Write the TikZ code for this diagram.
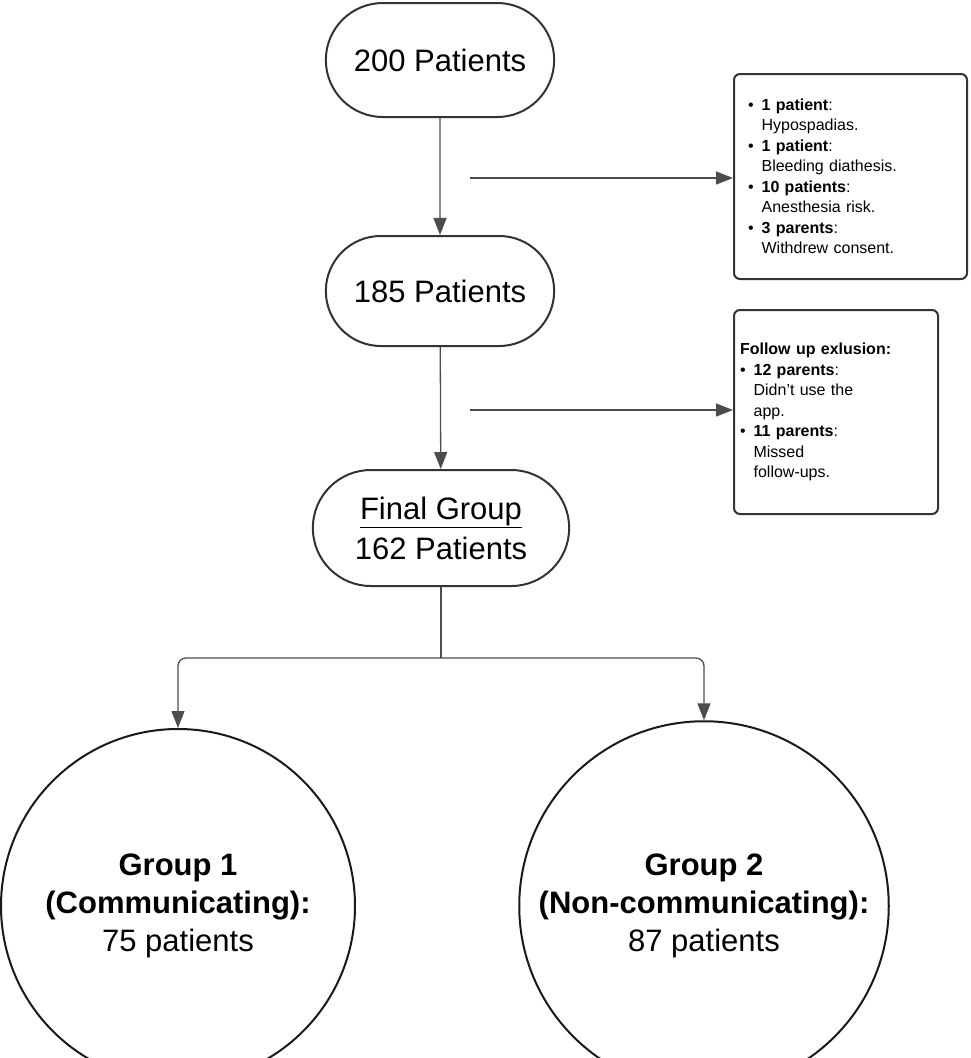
\documentclass[tikz,border=0pt]{standalone}
\usepackage{fontspec}
\setmainfont{Liberation Sans}
\usetikzlibrary{shapes.geometric, shapes.misc, arrows.meta, positioning, calc}

\begin{document}
\begin{tikzpicture}[
    x=1pt, y=-1pt,
    line width=1.2pt,
    stage/.style={draw=black!80, line width=2pt, rounded rectangle, minimum width=235pt, minimum height=114pt, align=center, font=\fontsize{31}{40}\selectfont},
    note/.style={draw=black!80, line width=2pt, rounded corners=6pt, align=left, anchor=north west, inner xsep=14pt, inner ysep=6pt, font=\fontsize{16}{20.5}\selectfont},
    group/.style={draw=black!90, line width=2pt, circle, minimum size=354pt, align=center, font=\fontsize{31}{38}\selectfont},
    forward/.style={-{Triangle[length=17pt, width=13pt]}, draw=black!70, line width=1.3pt}
]
    \useasboundingbox (0,0) rectangle (970,1058);

    % Main stages
    \node (start) [stage] at (440,60) {200 Patients};
    \node (mid) [stage, minimum height=110pt] at (440,291) {185 Patients};
    \node (final) [stage, minimum width=263pt, minimum height=116pt] at (441,528) {\underline{Final Group}\\162 Patients};

    % Exclusion notes
    \node (excl) [note, text width=205pt, minimum height=205pt] at (733,73) {%
        \textbullet\enspace\textbf{1 patient}:\\\phantom{\textbullet\enspace}Hypospadias.\\
        \textbullet\enspace\textbf{1 patient}:\\\phantom{\textbullet\enspace}Bleeding diathesis.\\
        \textbullet\enspace\textbf{10 patients}:\\\phantom{\textbullet\enspace}Anesthesia risk.\\
        \textbullet\enspace\textbf{3 parents}:\\\phantom{\textbullet\enspace}Withdrew consent.};
    \node (follow) [note, inner xsep=6pt, text width=192pt, minimum height=204pt] at (733,309) {%
        \textbf{Follow up exlusion:}\\
        \textbullet\enspace\textbf{12 parents}:\\\phantom{\textbullet\enspace}Didn't use the\\\phantom{\textbullet\enspace}app.\\
        \textbullet\enspace\textbf{11 parents}:\\\phantom{\textbullet\enspace}Missed\\\phantom{\textbullet\enspace}follow-ups.};

    % Groups
    \node (g1) [group] at (178,906) {\raisebox{40pt}{\begin{tabular}{c}\textbf{Group 1}\\\textbf{(Communicating):}\\75 patients\end{tabular}}};
    \node (g2) [group] at (704,906) {\raisebox{40pt}{\begin{tabular}{c}\textbf{Group 2}\\\textbf{(Non-communicating):}\\87 patients\end{tabular}}};

    % Flow
    \draw [forward] (start) -- (mid);
    \draw [forward] (mid) -- (final);
    \coordinate (side1) at (470,178);
    \coordinate (side2) at (470,410);
    \draw [forward] (side1) -- (side1 -| excl.west);
    \draw [forward] (side2) -- (side2 -| follow.west);

    % Split
    \coordinate (split) at (441,658);
    \draw [draw=black!70, line width=1.3pt] (final.south) -- (split);
    \draw [forward, rounded corners=8pt] (split) -| (g1.north);
    \draw [forward, rounded corners=8pt] (split) -| (g2.north);
\end{tikzpicture}
\end{document}
